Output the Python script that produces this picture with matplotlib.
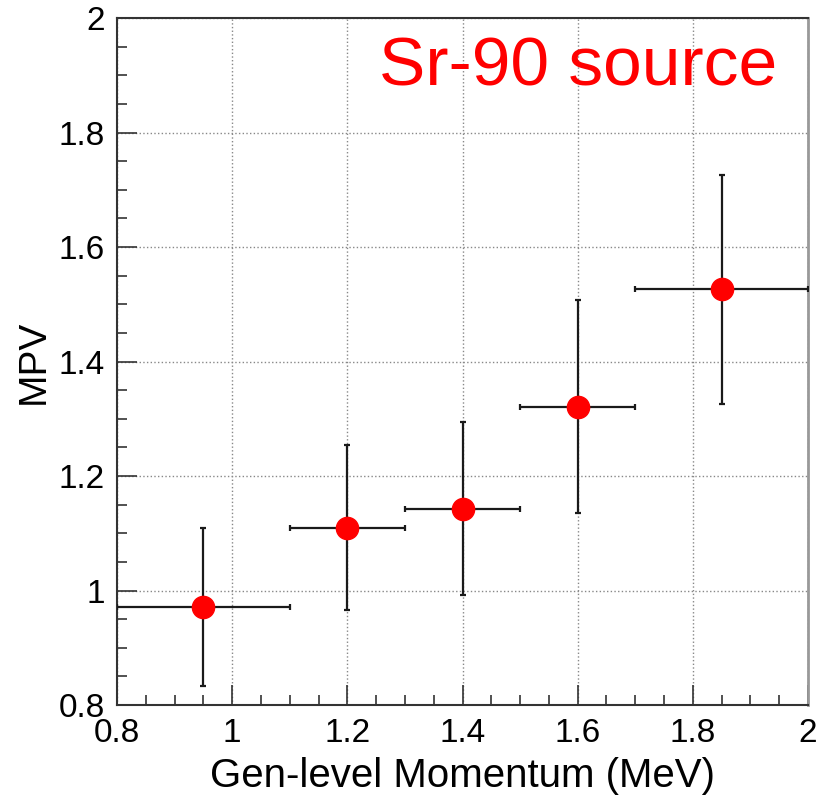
import matplotlib
matplotlib.use("Agg")
import matplotlib.pyplot as plt
from matplotlib.ticker import MultipleLocator

plt.rcParams['font.family'] = ['Liberation Sans', 'DejaVu Sans']

# MPV vs generator-level momentum
momentum = [0.95, 1.2, 1.4, 1.6, 1.85]
bin_lo = [0.8, 1.1, 1.3, 1.5, 1.7]
bin_hi = [1.1, 1.3, 1.5, 1.7, 2.0]
mpv = [0.971, 1.109, 1.142, 1.320, 1.527]
err_up = [1.109, 1.254, 1.294, 1.507, 1.726]
err_dn = [0.833, 0.966, 0.992, 1.135, 1.326]

xerr = [[m - lo for m, lo in zip(momentum, bin_lo)],
        [hi - m for m, hi in zip(momentum, bin_hi)]]
yerr = [[v - d for v, d in zip(mpv, err_dn)],
        [u - v for v, u in zip(mpv, err_up)]]

fig = plt.figure(figsize=(8.2, 7.98), dpi=100)
ax = fig.add_axes([0.1427, 0.1165, 0.8427, 0.8609])

ax.errorbar(momentum, mpv, xerr=xerr, yerr=yerr, fmt='o', color='red',
            markersize=16, ecolor='#1a1a1a', elinewidth=1.6, capsize=2,
            capthick=1.6, zorder=3)

ax.set_xlim(0.8, 2.0)
ax.set_ylim(0.8, 2.0)
ax.xaxis.set_major_locator(MultipleLocator(0.2))
ax.xaxis.set_minor_locator(MultipleLocator(0.05))
ax.yaxis.set_major_locator(MultipleLocator(0.2))
ax.yaxis.set_minor_locator(MultipleLocator(0.05))

def fmt(v, pos):
    s = f"{v:.1f}"
    return s[:-2] if s.endswith(".0") else s

ax.xaxis.set_major_formatter(fmt)
ax.yaxis.set_major_formatter(fmt)

ax.tick_params(which='both', direction='in', top=False, right=False,
               labelsize=24, color='#333333', pad=9)
ax.tick_params(which='major', length=14.5, width=1.2)
ax.tick_params(which='minor', length=7.5, width=1.2)

ax.grid(True, which='major', linestyle=':', color='#888888', linewidth=1)
for side in ['left', 'bottom', 'top']:
    ax.spines[side].set_color('#333333')
    ax.spines[side].set_linewidth(1.5)
ax.spines['right'].set_color('#999999')
ax.spines['right'].set_linewidth(2)

ax.set_xlabel('Gen-level Momentum (MeV)', fontsize=29, labelpad=6)
ax.set_ylabel('MPV', fontsize=28, labelpad=5)

ax.text(0.956, 0.974, 'Sr-90 source', transform=ax.transAxes, color='red',
        fontsize=50, ha='right', va='top')

fig.savefig('out.png', dpi=100)
